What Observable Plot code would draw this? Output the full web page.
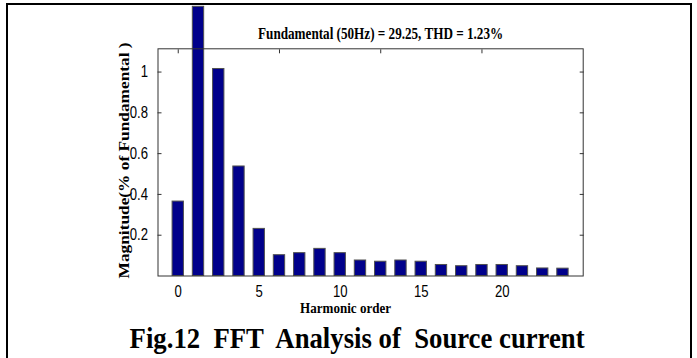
<!DOCTYPE html>
<html><head><meta charset="utf-8">
<script src="https://cdn.jsdelivr.net/npm/d3@7"></script>
<script src="https://cdn.jsdelivr.net/npm/@observablehq/plot@0.6"></script>
<style>
html,body{margin:0;padding:0;background:#fff;}
#wrap{position:relative;width:697px;height:358px;overflow:hidden;background:#fff;}
#wrap svg{position:absolute;left:0;top:0;}
#border{position:absolute;left:6px;top:3px;width:682px;height:400px;border:2px solid #000;border-bottom:none;pointer-events:none;}
</style></head><body>
<div id="wrap"></div>
<script>
const harmonicOrder = [0, 1.25, 2.5, 3.75, 5, 6.25, 7.5, 8.75, 10, 11.25, 12.5, 13.75, 15, 16.25, 17.5, 18.75, 20, 21.25, 22.5, 23.75];
const magnitude = [0.365, 1.32, 1.015, 0.537, 0.231, 0.102, 0.112, 0.133, 0.112, 0.076, 0.070, 0.076, 0.070, 0.054, 0.048, 0.054, 0.054, 0.048, 0.037, 0.036];
const xTickValues = [0, 5, 10, 15, 20];
const yTickValues = [0.2, 0.4, 0.6, 0.8, 1];
const topTickValues = [0, 6.25, 12.5, 18.75];
const titleText = "Fundamental (50Hz) = 29.25, THD = 1.23%";
const xLabel = "Harmonic order";
const yLabel = "Magnitude(% of Fundamental )";
const captionText = "Fig.12  FFT  Analysis of  Source current";

const data = harmonicOrder.map((h, i) => ({h, v: magnitude[i]}));
const serif = "'Liberation Serif', 'Times New Roman', serif";

const chart = Plot.plot({
  width: 697,
  height: 358,
  marginLeft: 157.5,
  marginRight: 114.3,
  marginTop: 48.3,
  marginBottom: 82.5,
  style: {fontFamily: "'Liberation Sans', Arial, sans-serif", fontSize: "16px", background: "transparent", overflow: "visible"},
  x: {domain: [-1.25, 25]},
  y: {domain: [0, 1.114]},
  marks: [
    Plot.rect(data, {x1: d => d.h - 0.35, x2: d => d.h + 0.35, y1: 0, y2: "v", fill: "#00008b", stroke: "#505050", strokeWidth: 1}),
    Plot.frame({stroke: "#333"}),
    Plot.axisX({ticks: xTickValues, anchor: "bottom", tickSize: 0, tickPadding: 9.5, label: null, fill: "#000"}),
    Plot.axisX({ticks: topTickValues, anchor: "top", tickSize: 4, dy: 4, tickFormat: () => "", label: null, stroke: "#333"}),
    Plot.axisY({ticks: yTickValues, anchor: "left", tickSize: 0, tickPadding: 10, tickFormat: d => String(d), label: null, fill: "#000"}),
    Plot.axisY({ticks: yTickValues, anchor: "left", tickSize: 4, dx: 4, tickFormat: () => "", label: null, stroke: "#333"}),
    Plot.axisY({ticks: yTickValues, anchor: "right", tickSize: 4, dx: -4, tickFormat: () => "", label: null, stroke: "#333"}),
    Plot.text([titleText], {text: d => d, frameAnchor: "top", textAnchor: "middle", dx: 10, dy: -10, lineAnchor: "bottom", fontFamily: serif, fontWeight: "bold", fontSize: 16, fill: "#000"}),
    Plot.text([yLabel], {text: d => d, frameAnchor: "left", textAnchor: "middle", dx: -29, dy: -2, rotate: -90, lineAnchor: "bottom", fontFamily: serif, fontWeight: "bold", fontSize: 15, fill: "#000"}),
    Plot.text([xLabel], {text: d => d, frameAnchor: "bottom", textAnchor: "middle", dx: -25, dy: 37.2, lineAnchor: "bottom", fontFamily: serif, fontWeight: "bold", fontSize: 15, fill: "#000"}),
    Plot.text([captionText], {text: d => d, frameAnchor: "bottom", textAnchor: "middle", dx: -13.5, dy: 71.8, lineAnchor: "bottom", fontFamily: serif, fontWeight: "bold", fontSize: 30, fill: "#000"})
  ]
});

const wrap = document.getElementById("wrap");
wrap.appendChild(chart);
const border = document.createElement("div");
border.id = "border";
wrap.appendChild(border);

const targetLengths = new Map([[titleText, 245], [yLabel, 236], [xLabel, 91], [captionText, 455]]);
const tickLabels = new Set([...xTickValues, ...yTickValues].map(String));
chart.querySelectorAll("text").forEach(t => {
  const s = t.textContent;
  if (targetLengths.has(s)) {
    t.style.whiteSpace = "pre";
    t.setAttribute("textLength", targetLengths.get(s));
    t.setAttribute("lengthAdjust", "spacingAndGlyphs");
  } else if (tickLabels.has(s)) {
    const w = t.getComputedTextLength();
    if (w > 0) {
      t.setAttribute("textLength", (w * 0.82).toFixed(2));
      t.setAttribute("lengthAdjust", "spacingAndGlyphs");
    }
  }
});
</script>
</body></html>
